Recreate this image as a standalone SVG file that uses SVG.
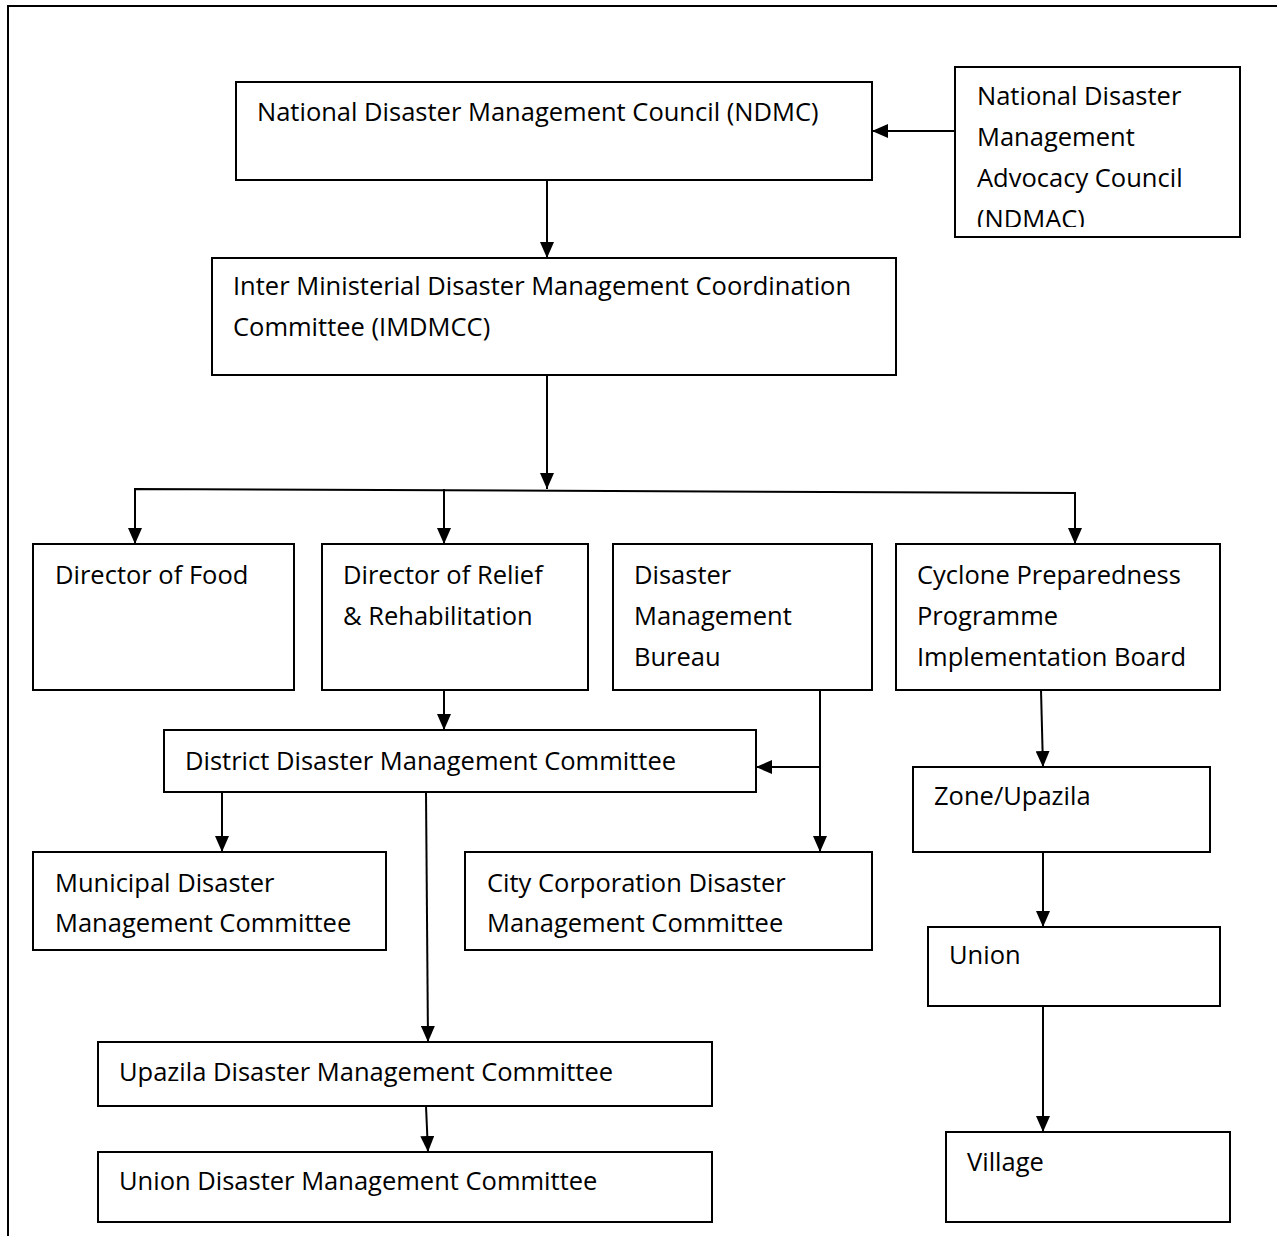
<svg xmlns="http://www.w3.org/2000/svg" width="1277" height="1236" viewBox="0 0 1277 1236">
<style>
.box{fill:#fff;stroke:#000;stroke-width:2}
.t{font-family:"Open Sans","Liberation Sans",sans-serif;font-size:25.5px;fill:#000}
.c{fill:none;stroke:#000;stroke-width:2}
</style>
<defs>
<marker id="ah" viewBox="0 0 16 14" refX="16" refY="7" markerWidth="16" markerHeight="14" markerUnits="userSpaceOnUse" orient="auto">
<path d="M0,0 L16,7 L0,14 Z" fill="#000"/>
</marker>
<clipPath id="clipNdmac"><rect x="955" y="67" width="285" height="160"/></clipPath>
</defs>
<rect width="1277" height="1236" fill="#fff"/>
<g id="frame"><path class="c" d="M8,1236 V6 H1277"/></g>
<g id="ndmc"><rect class="box" x="236" y="82" width="636" height="98"/><text class="t" x="257" y="121">National Disaster Management Council (NDMC)</text></g>
<g id="ndmac"><rect class="box" x="955" y="67" width="285" height="170"/>
<g clip-path="url(#clipNdmac)"><text class="t" x="977" y="105">National Disaster</text><text class="t" x="977" y="146">Management</text><text class="t" x="977" y="187">Advocacy Council</text><text class="t" x="977" y="228">(NDMAC)</text></g></g>
<g id="imdmcc"><rect class="box" x="212" y="258" width="684" height="117"/><text class="t" x="233" y="295">Inter Ministerial Disaster Management Coordination</text><text class="t" x="233" y="336">Committee (IMDMCC)</text></g>
<g id="food"><rect class="box" x="33" y="544" width="261" height="146"/><text class="t" x="55" y="584">Director of Food</text></g>
<g id="relief"><rect class="box" x="322" y="544" width="266" height="146"/><text class="t" x="343" y="584">Director of Relief</text><text class="t" x="343" y="625">&amp; Rehabilitation</text></g>
<g id="bureau"><rect class="box" x="613" y="544" width="259" height="146"/><text class="t" x="634" y="584">Disaster</text><text class="t" x="634" y="625">Management</text><text class="t" x="634" y="666">Bureau</text></g>
<g id="cyclone"><rect class="box" x="896" y="544" width="324" height="146"/><text class="t" x="917" y="584">Cyclone Preparedness</text><text class="t" x="917" y="625">Programme</text><text class="t" x="917" y="666">Implementation Board</text></g>
<g id="district"><rect class="box" x="164" y="730" width="592" height="62"/><text class="t" x="185" y="770">District Disaster Management Committee</text></g>
<g id="municipal"><rect class="box" x="33" y="852" width="353" height="98"/><text class="t" x="55" y="892">Municipal Disaster</text><text class="t" x="55" y="932">Management Committee</text></g>
<g id="city"><rect class="box" x="465" y="852" width="407" height="98"/><text class="t" x="487" y="892">City Corporation Disaster</text><text class="t" x="487" y="932">Management Committee</text></g>
<g id="upazila"><rect class="box" x="98" y="1042" width="614" height="64"/><text class="t" x="119" y="1081">Upazila Disaster Management Committee</text></g>
<g id="uniondmc"><rect class="box" x="98" y="1152" width="614" height="70"/><text class="t" x="119" y="1190">Union Disaster Management Committee</text></g>
<g id="zone"><rect class="box" x="913" y="767" width="297" height="85"/><text class="t" x="934" y="805">Zone/Upazila</text></g>
<g id="union"><rect class="box" x="928" y="927" width="292" height="79"/><text class="t" x="949" y="964">Union</text></g>
<g id="village"><rect class="box" x="946" y="1132" width="284" height="90"/><text class="t" x="967" y="1171">Village</text></g>
<g id="connectors">
<path class="c" d="M955,131 H872" marker-end="url(#ah)"/>
<path class="c" d="M547,180 V258" marker-end="url(#ah)"/>
<path class="c" d="M547,375 V489" marker-end="url(#ah)"/>
<path class="c" d="M135,544 V489 L1075,493 V544" />
<path class="c" d="M135,490 V544" marker-end="url(#ah)"/>
<path class="c" d="M444,489 V544" marker-end="url(#ah)"/>
<path class="c" d="M1075,493 V544" marker-end="url(#ah)"/>
<path class="c" d="M444,690 V730" marker-end="url(#ah)"/>
<path class="c" d="M820,690 V852" marker-end="url(#ah)"/>
<path class="c" d="M820,767 H756" marker-end="url(#ah)"/>
<path class="c" d="M222,792 V852" marker-end="url(#ah)"/>
<path class="c" d="M426,792 L428,1042" marker-end="url(#ah)"/>
<path class="c" d="M426,1106 L428,1152" marker-end="url(#ah)"/>
<path class="c" d="M1041,690 L1043,767" marker-end="url(#ah)"/>
<path class="c" d="M1043,852 V927" marker-end="url(#ah)"/>
<path class="c" d="M1043,1006 V1132" marker-end="url(#ah)"/>
</g>
</svg>
